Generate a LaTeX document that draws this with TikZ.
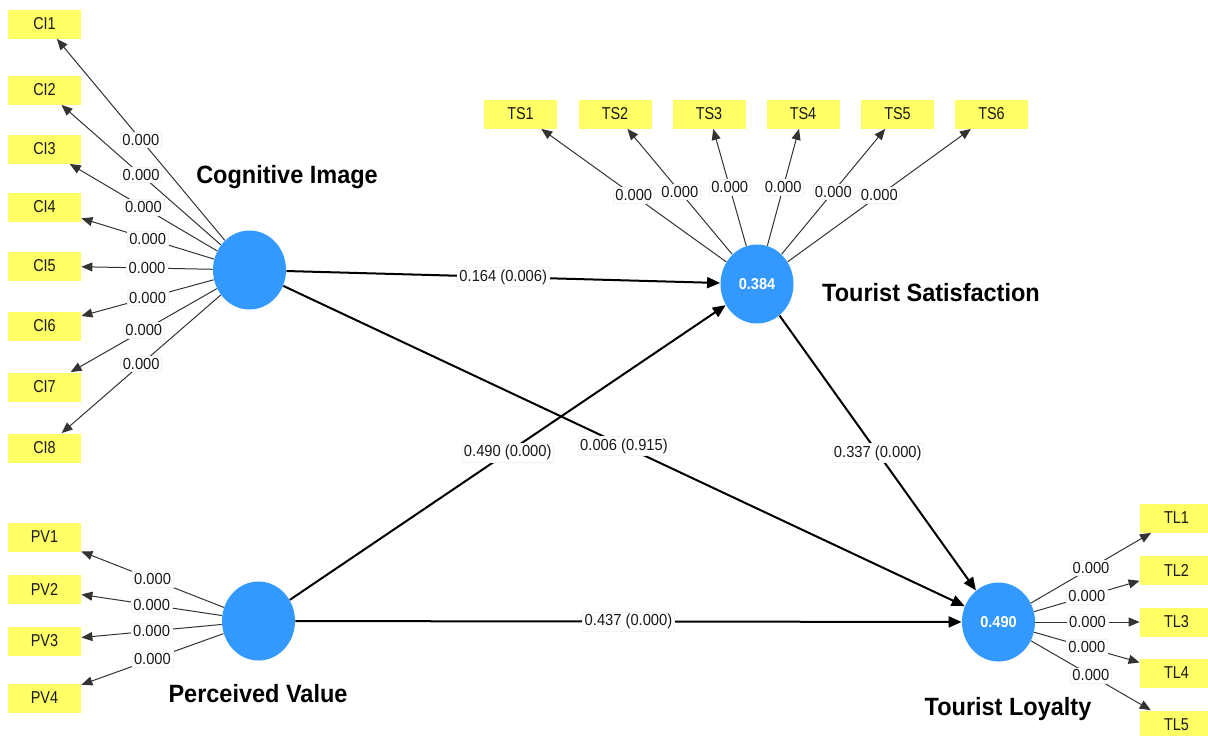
\documentclass[tikz,border=0pt]{standalone}
\usepackage{fontspec}
\setmainfont{Liberation Sans}
\newfontfamily\boxfont[FakeStretch=0.84]{Liberation Sans}
\newfontfamily\lblfont[FakeStretch=0.92]{Liberation Sans}
\newfontfamily\ttlfont[FakeStretch=0.94]{Liberation Sans}
\usetikzlibrary{shapes.geometric,arrows.meta}
\definecolor{indyellow}{RGB}{255,255,102}
\definecolor{latblue}{RGB}{51,153,255}
\definecolor{txtdark}{RGB}{25,25,25}
\tikzset{
  indbox/.style={rectangle, fill=indyellow, minimum width=36.5pt, minimum height=14.5pt, inner sep=0pt,
    text=txtdark, font=\boxfont\fontsize{8.6}{10}\selectfont},
  latent/.style={ellipse, fill=latblue, minimum width=36.5pt, minimum height=39.5pt, inner sep=0pt,
    text=white, font=\lblfont\bfseries\fontsize{7.9}{9}\selectfont},
  ttl/.style={text=black, inner sep=0pt, font=\ttlfont\bfseries\fontsize{12.5}{14}\selectfont},
  lbl/.style={fill=white, draw=black!5, line width=0.3pt, inner sep=1pt, text=txtdark,
    font=\lblfont\fontsize{8}{9.5}\selectfont},
  ind/.style={draw=black!80, line width=0.5pt, -{Triangle[length=5.5pt,width=4.5pt]}},
  path/.style={draw=black, line width=1pt, -{Triangle[length=6.5pt,width=5.5pt]}},
}
\begin{document}
\begin{tikzpicture}[x=0.5pt,y=-0.5pt]
\useasboundingbox (0,0) rectangle (1208,735);
% latent variables
\node[latent] (ci) at (249.5,270) {};
\node[latent] (pv) at (258.5,621) {};
\node[latent] (ts) at (757,284) {0.384};
\node[latent] (tl) at (998.5,622) {0.490};
% titles
\node[ttl] (tci) at (287,177) {Cognitive Image};
\node[ttl] (tts) at (931,293) {Tourist Satisfaction};
\node[ttl] (tpv) at (258,694) {Perceived Value};
\node[ttl] (ttl) at (1008,709) {Tourist Loyalty};
% CI indicators
\node[indbox] (ci1) at (44.5,24) {CI1};
\node[indbox] (ci2) at (44.5,90) {CI2};
\node[indbox] (ci3) at (44.5,149) {CI3};
\node[indbox] (ci4) at (44.5,207) {CI4};
\node[indbox] (ci5) at (44.5,266) {CI5};
\node[indbox] (ci6) at (44.5,326) {CI6};
\node[indbox] (ci7) at (44.5,387) {CI7};
\node[indbox] (ci8) at (44.5,448) {CI8};
% PV indicators
\node[indbox] (pv1) at (44.5,537) {PV1};
\node[indbox] (pv2) at (44.5,589) {PV2};
\node[indbox] (pv3) at (44.5,641) {PV3};
\node[indbox] (pv4) at (44.5,698) {PV4};
% TS indicators
\node[indbox] (ts1) at (520.5,114) {TS1};
\node[indbox] (ts2) at (615,114) {TS2};
\node[indbox] (ts3) at (709,114) {TS3};
\node[indbox] (ts4) at (803,114) {TS4};
\node[indbox] (ts5) at (897.5,114) {TS5};
\node[indbox] (ts6) at (991.5,114) {TS6};
% TL indicators
\node[indbox] (tl1) at (1176.5,518) {TL1};
\node[indbox] (tl2) at (1176.5,570) {TL2};
\node[indbox] (tl3) at (1176.5,622) {TL3};
\node[indbox] (tl4) at (1176.5,673) {TL4};
\node[indbox] (tl5) at (1176.5,725) {TL5};
% outer loadings
\foreach \i in {1,...,8} {\draw[ind] (ci) -- node[lbl]{0.000} (ci\i);}
\foreach \i in {1,...,4} {\draw[ind] (pv) -- node[lbl]{0.000} (pv\i);}
\foreach \i in {1,...,6} {\draw[ind] (ts) -- node[lbl]{0.000} (ts\i);}
\foreach \i in {1,...,5} {\draw[ind] (tl) -- node[lbl]{0.000} (tl\i);}
% structural paths
\draw[path] (ci) -- node[lbl]{0.164 (0.006)} (ts);
\draw[path] (ci) -- node[lbl]{0.006 (0.915)} (tl);
\draw[path] (pv) -- node[lbl]{0.490 (0.000)} (ts);
\draw[path] (pv) -- node[lbl]{0.437 (0.000)} (tl);
\draw[path] (ts) -- node[lbl]{0.337 (0.000)} (tl);
\end{tikzpicture}
\end{document}
